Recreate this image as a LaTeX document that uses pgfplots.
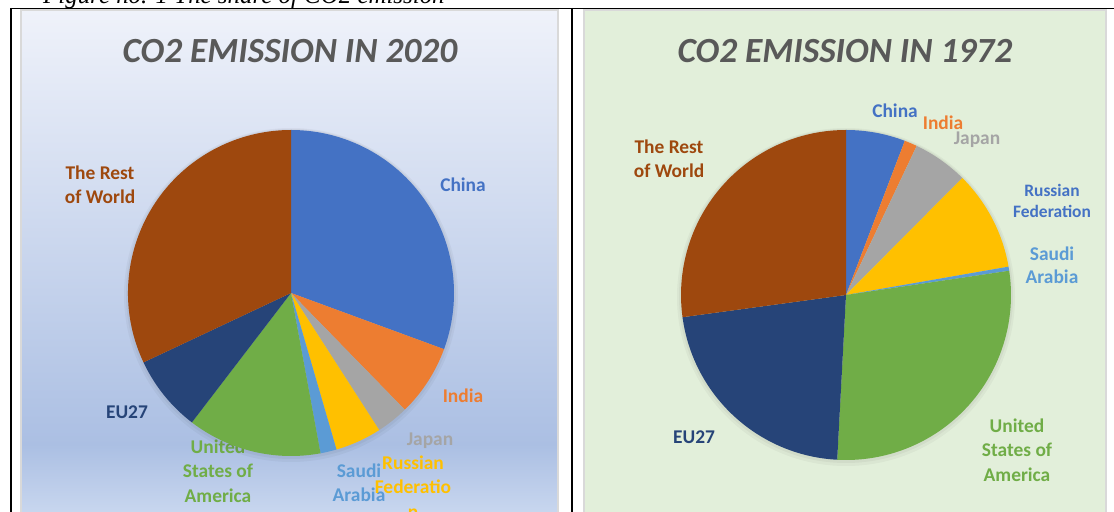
\documentclass[border=0pt]{standalone}
\usepackage{pgfplots}
\pgfplotsset{compat=1.18}
\usepackage{pgfplotstable}
\usepackage{fontspec}
\setmainfont{Carlito}
\newfontfamily\capfont{Liberation Serif}
\definecolor{cChina}{HTML}{4472C4}
\definecolor{cIndia}{HTML}{ED7D31}
\definecolor{cJapan}{HTML}{A5A5A5}
\definecolor{cRussia}{HTML}{FFC000}
\definecolor{cSaudi}{HTML}{5B9BD5}
\definecolor{cUSA}{HTML}{70AD47}
\definecolor{cEU}{HTML}{264478}
\definecolor{cRest}{HTML}{9E480E}
\definecolor{ctitle}{HTML}{595959}
\definecolor{cborder}{HTML}{D9D9D9}
\definecolor{bgTop}{HTML}{EFF2FA}
\definecolor{bgMid}{HTML}{ABBFE3}
\definecolor{bgBot}{HTML}{C9D7EF}
\definecolor{bgGreen}{HTML}{E2EFDA}

% CO2 emission shares (%), clockwise from 12 o'clock
\pgfplotstableread{
name value col
China 30.6 cChina
India 7.1 cIndia
Japan 3.2 cJapan
Russia 4.6 cRussia
Saudi 1.6 cSaudi
USA 13.3 cUSA
EU27 7.6 cEU
Rest 32.0 cRest
}\tabTwenty
\pgfplotstableread{
name value col
China 5.8 cChina
India 1.25 cIndia
Japan 5.4 cJapan
Russia 9.8 cRussia
Saudi 0.4 cSaudi
USA 28.2 cUSA
EU27 22.0 cEU
Rest 27.15 cRest
}\tabSeventy

\newcommand\drawpie[4]{% table, cx, cy, r
  \def\cum{0}%
  \pgfplotsforeachungrouped \i in {0,...,7}{%
    \pgfplotstablegetelem{\i}{value}\of{#1}\let\sliceval\pgfplotsretval
    \pgfplotstablegetelem{\i}{col}\of{#1}\let\slicecol\pgfplotsretval
    \pgfmathsetmacro\aA{90-3.6*\cum}%
    \pgfmathsetmacro\cum{\cum+\sliceval}%
    \pgfmathsetmacro\aB{90-3.6*\cum}%
    \pgfmathsetmacro\px{#2+#4*cos(\aA)}%
    \pgfmathsetmacro\py{#3+#4*sin(\aA)}%
    \edef\cmd{\noexpand\fill[\slicecol] (axis cs:#2,#3) -- (axis cs:\px,\py) arc[start angle=\aA, end angle=\aB, radius=#4bp] -- cycle;}%
    \cmd
  }%
}

\begin{document}
\begin{tikzpicture}
\useasboundingbox (0,0) rectangle (1114bp,512bp);
\clip (0,0) rectangle (1114bp,512bp);
\begin{axis}[
  at={(0,0)}, anchor=south west,
  scale only axis, width=1114bp, height=512bp,
  xmin=0, xmax=1114, ymin=0, ymax=512,
  hide axis, clip=false,
]
% table lines
\draw[black, line width=1.3bp] (axis cs:10,503.5) -- (axis cs:1116,503.5);
\draw[black, line width=2bp] (axis cs:10.5,504) -- (axis cs:10.5,-5);
\draw[black, line width=2.5bp] (axis cs:572,504) -- (axis cs:572,-5);
% caption (cut at the top)
\node[anchor=base west, inner sep=0pt, font=\capfont\itshape\fontsize{25}{30}\selectfont] at (axis cs:43,508) {Figure no. 1 The share of CO2 emission};

% left panel background
\shade[top color=bgTop, bottom color=bgMid] (axis cs:21,67) rectangle (axis cs:558,502);
\shade[top color=bgMid, bottom color=bgBot] (axis cs:21,-3) rectangle (axis cs:558,67.5);
\draw[cborder, line width=1.5bp] (axis cs:21,-5) -- (axis cs:21,502) -- (axis cs:558,502) -- (axis cs:558,-5);
% right panel background
\fill[bgGreen] (axis cs:584,-5) rectangle (axis cs:1106,502);
\draw[cborder, line width=1.5bp] (axis cs:584,-5) -- (axis cs:584,502) -- (axis cs:1106,502) -- (axis cs:1106,-5);

% titles
\node[text=ctitle, font=\fontsize{35.5}{42}\selectfont\bfseries\itshape] at (axis cs:290,461) {CO2 EMISSION IN 2020};
\node[text=ctitle, font=\fontsize{35.5}{42}\selectfont\bfseries\itshape] at (axis cs:845,461) {CO2 EMISSION IN 1972};

\tikzset{lab/.style={align=center, inner sep=0pt, font=\fontsize{19.5}{24.5}\selectfont\bfseries}}

% ---- 2020 pie ----
\node[lab, text=cUSA] at (axis cs:218,41) {United\\States of\\America};
\fill[black, opacity=0.035] (axis cs:291,217) circle[radius=167bp];
\fill[black, opacity=0.04] (axis cs:291,218) circle[radius=165bp];
\drawpie{\tabTwenty}{291}{219}{163}
\node[lab, text=cRest] at (axis cs:100,327.5) {The Rest\\of World};
\node[lab, text=cChina] at (axis cs:463,327) {China};
\node[lab, text=cIndia] at (axis cs:463,116) {India};
\node[lab, text=cJapan] at (axis cs:430,71) {Japan};
\node[lab, text=cSaudi] at (axis cs:359,29) {Saudi\\Arabia};
\node[lab, text=cRussia] at (axis cs:413,25) {Russian\\Federatio\\n};
\node[lab, text=cEU] at (axis cs:127,100) {EU27};

% ---- 1972 pie ----
\fill[black, opacity=0.035] (axis cs:846,215) circle[radius=169bp];
\fill[black, opacity=0.04] (axis cs:846,216) circle[radius=167bp];
\drawpie{\tabSeventy}{846}{217}{165}
\node[lab, text=cChina] at (axis cs:895,401) {China};
\node[lab, text=cIndia] at (axis cs:943,389) {India};
\node[lab, text=cJapan] at (axis cs:977,372) {Japan};
\node[lab, text=cChina, font=\fontsize{17.5}{21}\selectfont\bfseries] at (axis cs:1052,311.5) {Russian\\Federation};
\node[lab, text=cSaudi, font=\fontsize{19.5}{23}\selectfont\bfseries] at (axis cs:1052,246.5) {Saudi\\Arabia};
\node[lab, text=cRest] at (axis cs:669,353.5) {The Rest\\of World};
\node[lab, text=cUSA] at (axis cs:1017,62) {United\\States of\\America};
\node[lab, text=cEU] at (axis cs:694,75) {EU27};
\end{axis}
\end{tikzpicture}
\end{document}
